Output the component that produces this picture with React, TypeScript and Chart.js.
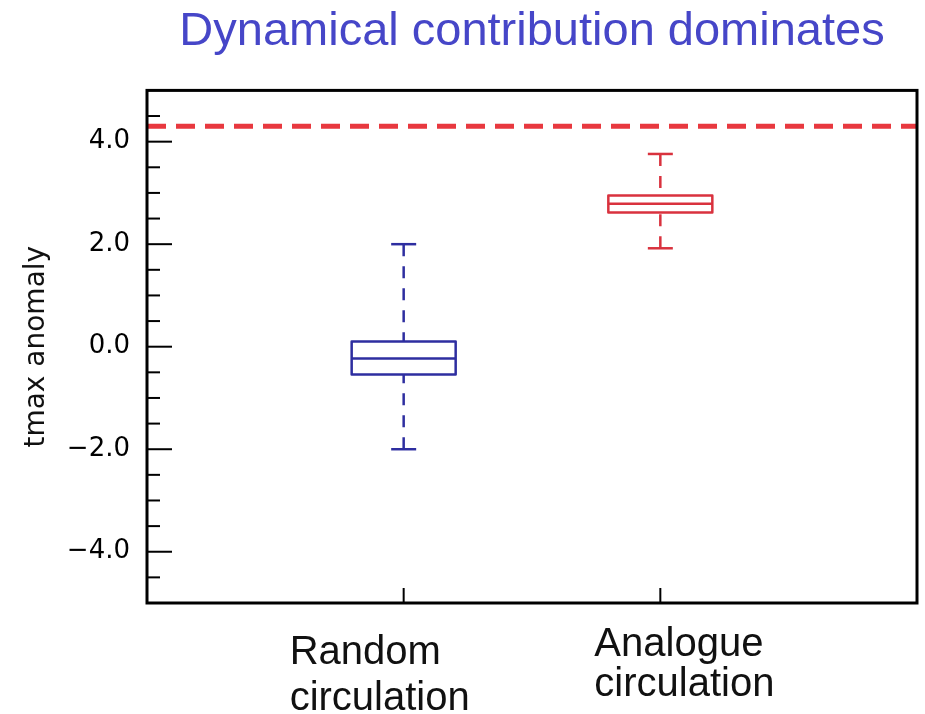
import React, { useEffect, useRef } from "react";
import { Chart, registerables } from "chart.js";

Chart.register(...registerables);

// ---- data ----
const categoryLines: string[][] = [
  ["Random", "circulation"],
  ["Analogue", "circulation"],
];
const categoryPositions = [1, 2];
const whiskerLow = [-2.0, 1.92];
const q1 = [-0.54, 2.62];
const median = [-0.23, 2.79];
const q3 = [0.1, 2.95];
const whiskerHigh = [2.0, 3.76];
const boxColors = ["#2e2ea0", "#d9323e"];
const thresholdValue = 4.3;
const yTickValues = [-4, -2, 0, 2, 4];
const yMinorStep = 0.5;
const yMin = -5;
const yMax = 5;
const xMin = 0;
const xMax = 3;
const titleText = "Dynamical contribution dominates";
const yAxisTitle = "tmax anomaly";

const SANS = '"Liberation Sans", Arial, sans-serif';
const DEJAVU = '"DejaVu Sans", sans-serif';

const boxPlugin = {
  id: "boxplotDraw",
  afterDatasetsDraw(chart: any) {
    const { ctx, chartArea, scales } = chart;
    const x = scales.x;
    const y = scales.y;
    const line = (x1: number, y1: number, x2: number, y2: number) => {
      ctx.beginPath();
      ctx.moveTo(x1, y1);
      ctx.lineTo(x2, y2);
      ctx.stroke();
    };
    ctx.save();
    ctx.lineJoin = "round";
    categoryPositions.forEach((pos, i) => {
      const cx = x.getPixelForValue(pos);
      const half = 52;
      const cap = 12.5;
      const yLo = y.getPixelForValue(whiskerLow[i]);
      const yHi = y.getPixelForValue(whiskerHigh[i]);
      const yQ1 = y.getPixelForValue(q1[i]);
      const yQ3 = y.getPixelForValue(q3[i]);
      const yMed = y.getPixelForValue(median[i]);
      ctx.strokeStyle = boxColors[i];
      ctx.lineWidth = 2.5;
      ctx.setLineDash([]);
      ctx.strokeRect(cx - half, yQ3, 2 * half, yQ1 - yQ3);
      line(cx - half, yMed, cx + half, yMed);
      line(cx - cap, yHi, cx + cap, yHi);
      line(cx - cap, yLo, cx + cap, yLo);
      ctx.setLineDash([12, 10]);
      line(cx, yHi, cx, yQ3);
      line(cx, yLo, cx, yQ1);
    });

    // frame
    ctx.setLineDash([]);
    ctx.strokeStyle = "#000";
    ctx.lineWidth = 3;
    ctx.lineJoin = "miter";
    ctx.strokeRect(
      chartArea.left,
      chartArea.top,
      chartArea.right - chartArea.left,
      chartArea.bottom - chartArea.top
    );

    // inward y ticks
    ctx.lineWidth = 2;
    for (let v = yMin + yMinorStep; v < yMax - 1e-9; v += yMinorStep) {
      const py = y.getPixelForValue(v);
      const major = yTickValues.some((t) => Math.abs(t - v) < 1e-6);
      line(chartArea.left, py, chartArea.left + (major ? 25 : 13), py);
    }
    // inward x ticks
    categoryPositions.forEach((pos) => {
      const px = x.getPixelForValue(pos);
      line(px, chartArea.bottom, px, chartArea.bottom - 15);
    });

    // category labels
    ctx.fillStyle = "#111";
    ctx.font = `40px ${SANS}`;
    ctx.textAlign = "left";
    ctx.textBaseline = "alphabetic";
    const offsets = [
      { dx: -114, base: [61, 107] },
      { dx: -66, base: [53, 93] },
    ];
    categoryPositions.forEach((pos, i) => {
      const px = x.getPixelForValue(pos);
      categoryLines[i].forEach((txt, j) => {
        ctx.fillText(txt, px + offsets[i].dx, chartArea.bottom + offsets[i].base[j]);
      });
    });
    ctx.restore();
  },
};

export default function App() {
  const canvasRef = useRef<HTMLCanvasElement | null>(null);

  useEffect(() => {
    document.body.style.margin = "0";
    const canvas = canvasRef.current;
    if (!canvas) return;
    const chart = new Chart(canvas, {
      type: "scatter",
      data: {
        datasets: [
          {
            label: "threshold",
            data: [
              { x: xMin, y: thresholdValue },
              { x: xMax, y: thresholdValue },
            ],
            showLine: true,
            borderColor: "#e8383f",
            borderWidth: 5,
            borderDash: [19, 10],
            pointRadius: 0,
            fill: false,
          },
        ],
      },
      options: {
        responsive: false,
        animation: false,
        devicePixelRatio: 1,
        events: [],
        layout: { padding: { left: 0, right: 8, top: 0, bottom: 0 } },
        plugins: {
          legend: { display: false },
          tooltip: { enabled: false },
          title: {
            display: true,
            text: titleText,
            color: "#4646c8",
            fullSize: false,
            font: { family: SANS, size: 47, weight: "normal" },
            padding: { top: 4, bottom: 30 },
          },
        },
        scales: {
          x: {
            type: "linear",
            min: xMin,
            max: xMax,
            grid: { display: false, drawTicks: false },
            border: { display: false },
            ticks: { display: false },
            afterBuildTicks: (scale: any) => {
              scale.ticks = categoryPositions.map((v) => ({ value: v }));
            },
            afterFit: (scale: any) => {
              scale.height = 111;
            },
          },
          y: {
            type: "linear",
            min: yMin,
            max: yMax,
            grid: { display: false, drawTicks: false },
            border: { display: false },
            afterBuildTicks: (scale: any) => {
              scale.ticks = yTickValues.map((v) => ({ value: v }));
            },
            ticks: {
              padding: 17,
              color: "#000",
              font: { family: DEJAVU, size: 26 },
              callback: (v: any) => Number(v).toFixed(1).replace("-", "\u2212"),
            },
            title: {
              display: true,
              text: yAxisTitle,
              color: "#111",
              font: { family: DEJAVU, size: 28 },
              padding: { top: 20, bottom: 0 },
            },
            afterFit: (scale: any) => {
              scale.width = 147;
            },
          },
        },
      },
      plugins: [boxPlugin],
    } as any);
    return () => chart.destroy();
  }, []);

  return (
    <div style={{ width: 925, height: 714, background: "#fff" }}>
      <canvas ref={canvasRef} width={925} height={714} />
    </div>
  );
}
